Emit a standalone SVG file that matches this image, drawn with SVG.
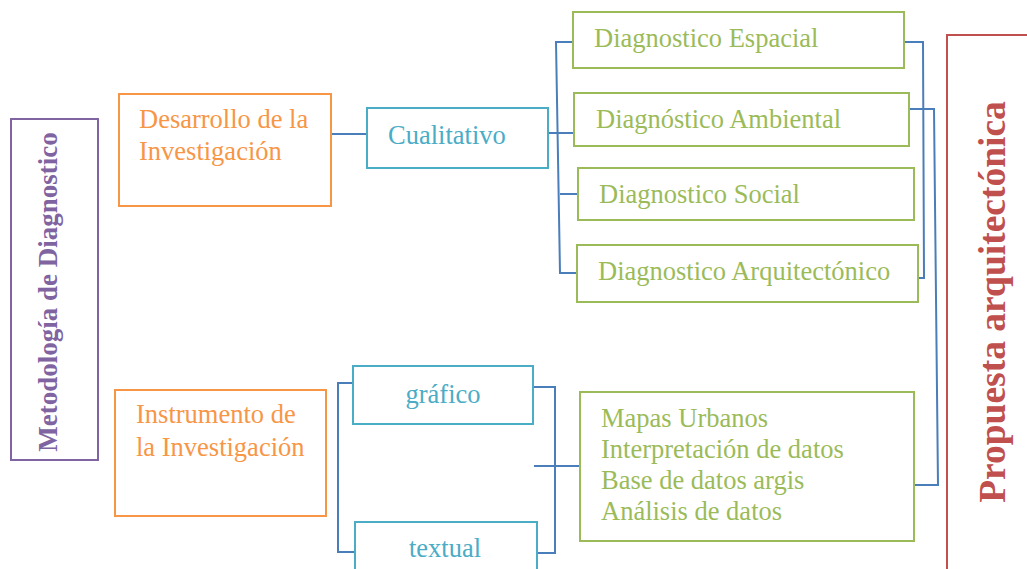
<svg xmlns="http://www.w3.org/2000/svg" width="1027" height="569" viewBox="0 0 1027 569">
<style>
text{font-family:"Liberation Serif","Times New Roman",serif;font-size:26.5px}
text.v1{font-weight:bold;font-size:27px}
text.v2{font-weight:bold;font-size:37.5px}
.box{fill:#fff;stroke-width:2}
.or{stroke:#F79646}.tor{fill:#F79646}
.te{stroke:#4BACC6}.tte{fill:#4BACC6}
.gr{stroke:#9BBB59}.tgr{fill:#9BBB59}
.pu{stroke:#8064A2}.tpu{fill:#8064A2}
.re{stroke:#C0504D}.tre{fill:#C0504D}
.con path{fill:none;stroke:#4A7EBB;stroke-width:2}
</style>
<rect width="1027" height="569" fill="#fff"/>
<g class="con">
<path d="M331,134 H367"/>
<path d="M548,133 H574"/>
<path d="M573,42 H556 L560,273 H577"/>
<path d="M560,194 H578"/>
<path d="M904,42 H923 L924,278 H919"/>
<path d="M909,109 H934 L938,485 H914"/>
<path d="M353,383 H338 V552 H355"/>
<path d="M533,387 H555 V553 H537"/>
<path d="M534,466 H580"/>
</g>
<g id="metodologia"><rect class="box pu" x="11" y="119" width="87" height="341"/><text class="tpu v1" text-anchor="middle" transform="translate(57,292) rotate(-90)">Metodología de Diagnostico</text></g>
<g id="desarrollo"><rect class="box or" x="119" y="94" width="212" height="112"/><text class="tor" x="139" y="128">Desarrollo de la</text><text class="tor" x="139" y="160">Investigación</text></g>
<g id="cualitativo"><rect class="box te" x="367" y="108" width="181" height="60"/><text class="tte" x="388" y="144">Cualitativo</text></g>
<g id="espacial"><rect class="box gr" x="573" y="12" width="331" height="56"/><text class="tgr" x="594" y="47">Diagnostico Espacial</text></g>
<g id="ambiental"><rect class="box gr" x="574" y="93" width="335" height="53"/><text class="tgr" x="596" y="128">Diagnóstico Ambiental</text></g>
<g id="social"><rect class="box gr" x="578" y="168" width="336" height="52"/><text class="tgr" x="599" y="203">Diagnostico Social</text></g>
<g id="arquitectonico"><rect class="box gr" x="577" y="245" width="341" height="57"/><text class="tgr" x="598" y="280">Diagnostico Arquitectónico</text></g>
<g id="propuesta"><rect class="box re" x="947" y="35" width="100" height="560"/><text class="tre v2" text-anchor="middle" transform="translate(1005,302) rotate(-90)">Propuesta arquitectónica</text></g>
<g id="instrumento"><rect class="box or" x="115" y="390" width="211" height="126"/><text class="tor" x="136" y="423">Instrumento de</text><text class="tor" x="136" y="456">la Investigación</text></g>
<g id="grafico"><rect class="box te" x="353" y="366" width="180" height="58"/><text class="tte" x="443" y="403" text-anchor="middle">gráfico</text></g>
<g id="textual"><rect class="box te" x="355" y="522" width="182" height="60"/><text class="tte" x="445" y="557" text-anchor="middle">textual</text></g>
<g id="mapas"><rect class="box gr" x="580" y="392" width="334" height="149"/><text class="tgr" x="601" y="427">Mapas Urbanos</text><text class="tgr" x="601" y="458">Interpretación de datos</text><text class="tgr" x="601" y="489">Base de datos argis</text><text class="tgr" x="601" y="520">Análisis de datos</text></g>
</svg>
